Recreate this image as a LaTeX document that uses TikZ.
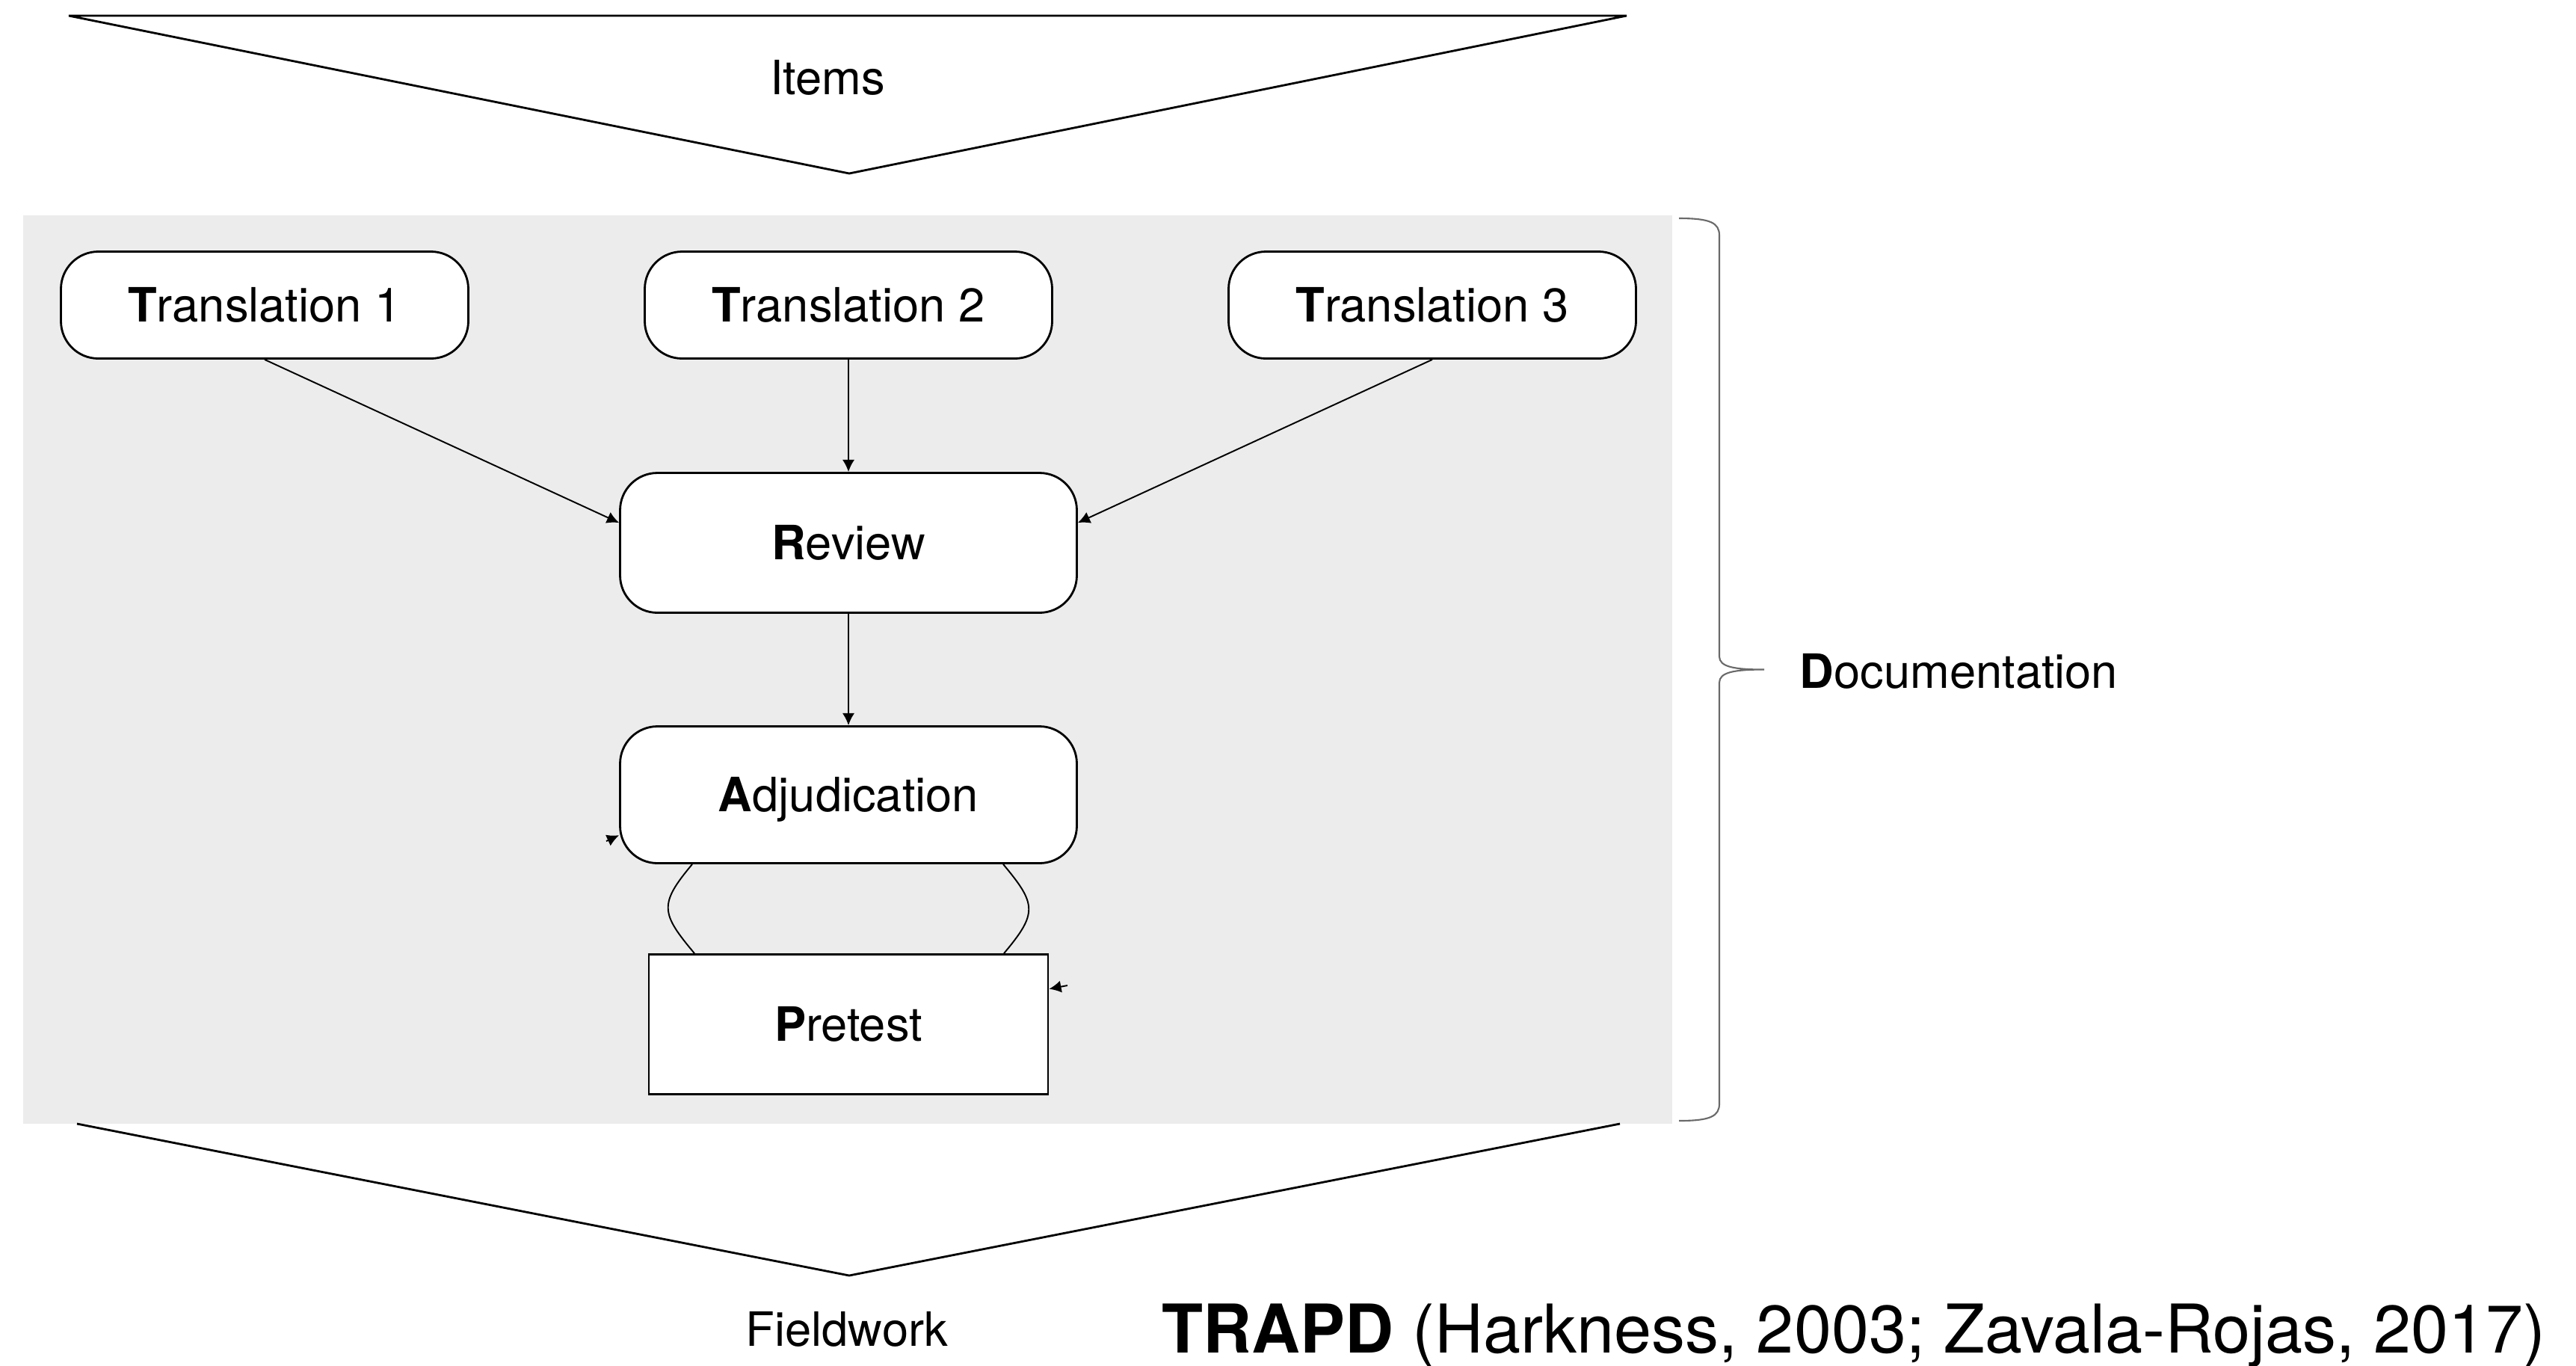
\documentclass[tikz,border=0pt]{standalone}
\usepackage{fontspec}
\setmainfont{TeX Gyre Heros}
\usetikzlibrary{arrows.meta}
\definecolor{bggray}{RGB}{235,236,235}
\definecolor{bracegray}{RGB}{105,105,105}
\tikzset{
  stage/.style={draw,fill=white,line width=0.8pt,rounded corners=0.5cm,minimum width=5.45cm,minimum height=1.43cm,text height=12.9pt,text depth=0pt,font=\fontsize{18}{22}\selectfont},
  flow/.style={line width=0.55pt,-{Latex[length=4.6pt,width=4.6pt]}},
  label/.style={inner sep=0pt,font=\fontsize{18}{22}\selectfont}
}

\begin{document}
\begin{tikzpicture}[node distance=7.81cm]
\useasboundingbox (0,0) rectangle (34.46,-18.26);
\fill[bggray] (0.31,-2.88) rectangle (22.37,-15.03);
\draw[line width=0.8pt] (0.92,-0.21) -- (21.76,-0.21) -- (11.36,-2.32) -- cycle;
\draw[line width=0.8pt] (1.03,-15.03) -- (11.36,-17.06) -- (21.67,-15.03);
\node (items) [label,anchor=base] at (11.07,-1.26) {Items};
\node (field) [label,anchor=base] at (11.33,-18.00) {Fieldwork};
\node (cite) [inner sep=0pt,anchor=base west,font=\fontsize{25.6}{30}\selectfont] at (15.54,-18.09) {\textbf{TRAPD} (Harkness, 2003; Zavala-Rojas, 2017)};

\node (t1) [stage] at (3.54,-4.08) {\textbf{T}ranslation 1};
\node (t2) [stage,right of=t1] {\textbf{T}ranslation 2};
\node (t3) [stage,right of=t2] {\textbf{T}ranslation 3};
\node (review) [stage,below of=t2,node distance=3.18cm,minimum width=6.11cm,minimum height=1.87cm] {\textbf{R}eview};
\node (adjud) [stage,below of=review,node distance=3.37cm,minimum width=6.11cm,minimum height=1.83cm] {\textbf{A}djudication};
\node (pretest) [stage,below of=adjud,node distance=3.07cm,sharp corners,minimum width=5.34cm,minimum height=1.87cm] {\textbf{P}retest};

\draw [flow] (t1.south) -- (review.175);
\draw [flow] (t2) -- (review);
\draw [flow] (t3.south) -- (review.5);
\draw [flow] (review) -- (adjud);
\draw [line width=0.55pt] ([xshift=-2.09cm]adjud.south) to[out=-130,in=130,looseness=1.5] ([xshift=-2.06cm]pretest.north);
\draw [line width=0.55pt] ([xshift=2.07cm]adjud.south) to[out=-50,in=50,looseness=1.5] ([xshift=2.08cm]pretest.north);
\coordinate (adjin) at (8.11,-11.25);
\coordinate (prein) at (14.28,-13.18);
\draw [flow] (adjin) -- (adjud.190);
\draw [flow] (prein) -- (pretest.10);

\draw [bracegray,line width=0.6pt] (22.46,-2.92) .. controls (22.88,-2.92) and (23.0,-2.98) .. (23.0,-3.15)
  -- (23.0,-8.78) .. controls (23.0,-8.92) and (23.2,-8.955) .. (23.6,-8.955)
  .. controls (23.2,-8.955) and (23.0,-8.99) .. (23.0,-9.13)
  -- (23.0,-14.76) .. controls (23.0,-14.93) and (22.88,-14.99) .. (22.46,-14.99);
\node (doc) [label,anchor=base west] at (24.07,-9.20) {\textbf{D}ocumentation};
\end{tikzpicture}
\end{document}
